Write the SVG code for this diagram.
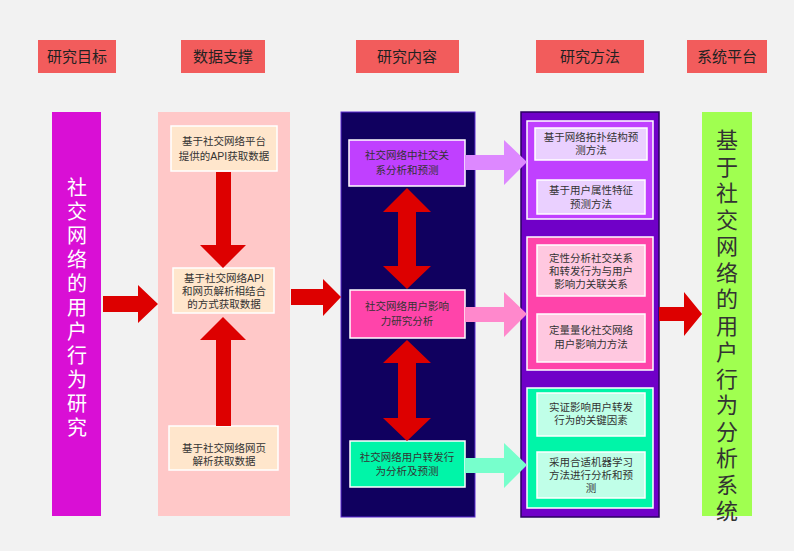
<svg xmlns="http://www.w3.org/2000/svg" width="794" height="551" viewBox="0 0 794 551">
<style>
text{font-family:"Liberation Sans","Noto Sans CJK SC",sans-serif;text-anchor:middle}
.h{fill:#f25c5c}.ht{font-size:15px;fill:#222}
.t{font-size:10.5px;fill:#333}
.wb{stroke:#fff;stroke-width:1.5}
.red{fill:#dd0000}
</style>
<rect width="794" height="551" fill="#f2f2f2"/>
<g id="headers">
<rect class="h" x="38" y="40" width="78" height="33"/><text class="ht" x="77" y="62">研究目标</text>
<rect class="h" x="181" y="40" width="84" height="33"/><text class="ht" x="223" y="62">数据支撑</text>
<rect class="h" x="356" y="40" width="103" height="33"/><text class="ht" x="407" y="62">研究内容</text>
<rect class="h" x="536" y="40" width="108" height="33"/><text class="ht" x="590" y="62">研究方法</text>
<rect class="h" x="687" y="40" width="80" height="33"/><text class="ht" x="727" y="62">系统平台</text>
</g>
<g id="goal">
<rect x="52" y="112" width="49" height="404" fill="#d90fd5"/>
<text x="77" y="195" font-size="20" fill="#fff"><tspan x="77">社</tspan><tspan x="77" dy="24">交</tspan><tspan x="77" dy="24">网</tspan><tspan x="77" dy="24">络</tspan><tspan x="77" dy="24">的</tspan><tspan x="77" dy="24">用</tspan><tspan x="77" dy="24">户</tspan><tspan x="77" dy="24">行</tspan><tspan x="77" dy="24">为</tspan><tspan x="77" dy="24">研</tspan><tspan x="77" dy="24">究</tspan></text>
</g>
<g id="data">
<rect x="158" y="112" width="132" height="404" fill="#ffc8c8"/>
<rect class="wb" x="171" y="126" width="106" height="45" fill="#ffe6cc"/>
<text class="t" x="224" y="145">基于社交网络平台</text><text class="t" x="224" y="160">提供的API获取数据</text>
<rect class="wb" x="173" y="268" width="101" height="45" fill="#ffe6cc"/>
<text class="t" x="224" y="282">基于社交网络API</text><text class="t" x="224" y="295">和网页解析相结合</text><text class="t" x="224" y="308">的方式获取数据</text>
<rect class="wb" x="169" y="426" width="109" height="44" fill="#ffe6cc"/>
<text class="t" x="224" y="452">基于社交网络网页</text><text class="t" x="224" y="465">解析获取数据</text>
</g>
<g id="content">
<rect x="341" y="112" width="134" height="405" fill="#10005f" stroke="#5a2ad0"/>
<rect class="wb" x="349" y="140" width="116" height="46" fill="#c040ff"/>
<text class="t" x="407" y="159" font-size="11.5">社交网络中社交关</text><text class="t" x="407" y="174" font-size="11.5">系分析和预测</text>
<rect class="wb" x="350" y="290" width="115" height="48" fill="#ff44aa"/>
<text class="t" x="407" y="310" font-size="11.5">社交网络用户影响</text><text class="t" x="407" y="325" font-size="11.5">力研究分析</text>
<rect class="wb" x="350" y="441" width="115" height="46" fill="#00f5a8"/>
<text class="t" x="407" y="461">社交网络用户转发行</text><text class="t" x="407" y="475">为分析及预测</text>
</g>
<g id="method">
<rect x="521" y="112" width="138" height="405" fill="#7000c8" stroke="#2a0060" stroke-width="1.5"/>
<rect class="wb" x="527" y="121" width="126" height="98" fill="#c040ff"/>
<rect class="wb" x="535" y="128" width="112" height="32" fill="#ead0ff"/>
<text class="t" x="591" y="141">基于网络拓扑结构预</text><text class="t" x="591" y="154">测方法</text>
<rect class="wb" x="537" y="180" width="108" height="34" fill="#ead0ff"/>
<text class="t" x="591" y="194">基于用户属性特征</text><text class="t" x="591" y="208">预测方法</text>
<rect class="wb" x="527" y="237" width="126" height="133" fill="#ff44aa"/>
<rect class="wb" x="537" y="245" width="108" height="51" fill="#ffc8e0"/>
<text class="t" x="591" y="262">定性分析社交关系</text><text class="t" x="591" y="275">和转发行为与用户</text><text class="t" x="591" y="288">影响力关联关系</text>
<rect class="wb" x="537" y="314" width="108" height="48" fill="#ffc8e0"/>
<text class="t" x="591" y="334">定量量化社交网络</text><text class="t" x="591" y="348">用户影响力方法</text>
<rect class="wb" x="527" y="388" width="126" height="120" fill="#00f5a8"/>
<rect class="wb" x="537" y="393" width="108" height="43" fill="#c0ffe8"/>
<text class="t" x="591" y="411">实证影响用户转发</text><text class="t" x="591" y="424">行为的关键因素</text>
<rect class="wb" x="537" y="452" width="108" height="46" fill="#c0ffe8"/>
<text class="t" x="591" y="466">采用合适机器学习</text><text class="t" x="591" y="479">方法进行分析和预</text><text class="t" x="591" y="492">测</text>
</g>
<g id="system">
<rect x="702" y="112" width="50" height="404" fill="#a0ff50"/>
<text x="727" y="148" font-size="22" fill="#333"><tspan x="727">基</tspan><tspan x="727" dy="26.5">于</tspan><tspan x="727" dy="26.5">社</tspan><tspan x="727" dy="26.5">交</tspan><tspan x="727" dy="26.5">网</tspan><tspan x="727" dy="26.5">络</tspan><tspan x="727" dy="26.5">的</tspan><tspan x="727" dy="26.5">用</tspan><tspan x="727" dy="26.5">户</tspan><tspan x="727" dy="26.5">行</tspan><tspan x="727" dy="26.5">为</tspan><tspan x="727" dy="26.5">分</tspan><tspan x="727" dy="26.5">析</tspan><tspan x="727" dy="26.5">系</tspan><tspan x="727" dy="26.5">统</tspan></text>
</g>
<g id="connectors">
<polygon class="red" points="103,296 138,296 138,285 158,304 138,323 138,312 103,312"/>
<polygon class="red" points="216,172 231,172 231,245 246,245 223,268 200,245 216,245"/>
<polygon class="red" points="216,426 231,426 231,340 246,340 223,317 200,340 216,340"/>
<polygon class="red" points="291,289 323,289 323,279 341,297 323,316 323,305 291,305"/>
<polygon class="red" points="407,188 431,212 416,212 416,266 431,266 407,289 383,266 398,266 398,212 383,212"/>
<polygon class="red" points="407,340 431,363 416,363 416,418 431,418 407,441 383,418 398,418 398,363 383,363"/>
<polygon fill="#dd88ff" points="465,155 504,155 504,140 527,162 504,185 504,170 465,170"/>
<polygon fill="#ff88cc" points="465,307 504,307 504,292 527,314 504,337 504,322 465,322"/>
<polygon fill="#77ffcc" points="465,458 504,458 504,443 527,465 504,488 504,473 465,473"/>
<polygon class="red" points="659,307 684,307 684,292 702,314 684,336 684,321 659,321"/>
</g>
</svg>
